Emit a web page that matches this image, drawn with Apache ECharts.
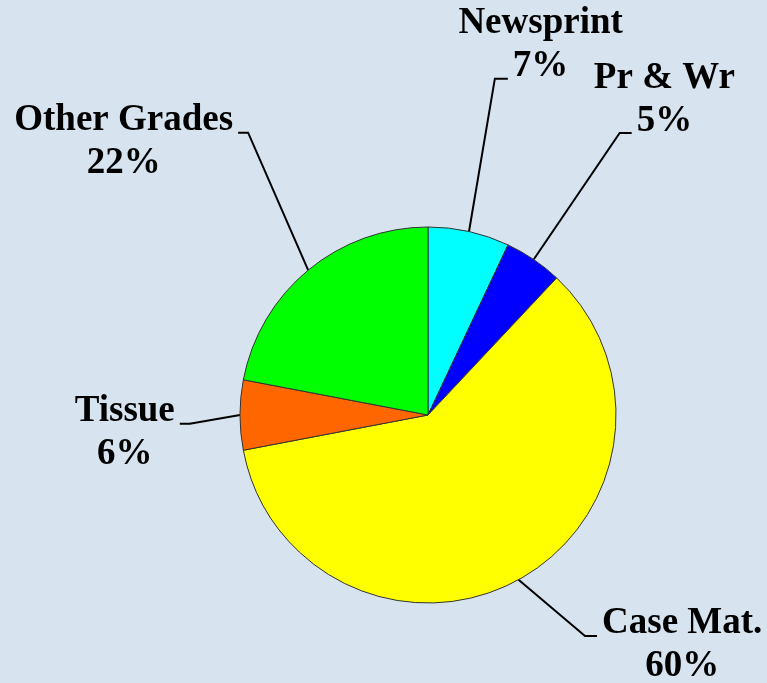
<!DOCTYPE html>
<html>
<head>
<meta charset="utf-8">
<script src="https://cdn.jsdelivr.net/npm/echarts@6/dist/echarts.min.js"></script>
<style>
  html, body { margin: 0; padding: 0; background: #d7e4f0; }
  #chart { width: 767px; height: 683px; }
</style>
</head>
<body>
<div id="chart"></div>
<script>
const names = ['Newsprint', 'Pr & Wr', 'Case Mat.', 'Tissue', 'Other Grades'];
const shares = [7, 5, 60, 6, 22];
const colors = ['#00ffff', '#0000ff', '#ffff00', '#ff6600', '#00ff00'];

// leader lines: first segment length, turn away from radial (deg), tail, text row it touches
const leaders = [
  { len: 155, turn: -3, tail: 13, row: 1 },
  { len: 153, turn: 0, tail: 12, row: 1 },
  { len: 87, turn: -21, tail: 12, row: 0 },
  { len: 51, turn: -10, tail: 10, row: 0 },
  { len: 150, turn: 16, tail: 10, row: 0 }
];

const CX = 428, CY = 415, R = 188;
const FONT_SIZE = 37, LH = 43, GAP = 5, BASE = 12;

const ctx = document.createElement('canvas').getContext('2d');
ctx.font = 'bold ' + FONT_SIZE + 'px "Liberation Serif"';

let myChart = echarts.init(document.getElementById('chart'));

let seriesData = names.map((n, i) => ({
  name: n,
  value: shares[i],
  itemStyle: { color: colors[i] }
}));

let option = {
  backgroundColor: '#d7e4f0',
  animation: false,
  series: [
    {
      type: 'pie',
      center: [CX, CY],
      radius: R,
      startAngle: 90,
      clockwise: true,
      avoidLabelOverlap: false,
      data: seriesData,
      itemStyle: { borderColor: '#333', borderWidth: 1 },
      emphasis: { disabled: true },
      label: {
        show: true,
        formatter: (p) => p.name + '\n' + p.value + '%',
        fontFamily: 'Liberation Serif',
        fontWeight: 'bold',
        fontSize: FONT_SIZE,
        lineHeight: LH,
        color: '#000'
      },
      labelLine: {
        show: true,
        length: 30,
        length2: 10,
        lineStyle: { color: '#000', width: 2 }
      },
      labelLayout: function (p) {
        const i = p.dataIndex;
        const cfg = leaders[i];
        const a = p.labelLinePoints[0];
        const radial = Math.atan2(a[0] - CX, -(a[1] - CY)) * 180 / Math.PI;
        const ang = (radial + cfg.turn) * Math.PI / 180;
        const bend = [a[0] + cfg.len * Math.sin(ang), a[1] - cfg.len * Math.cos(ang)];
        const side = Math.sin(ang) >= 0 ? 1 : -1;
        const end = [bend[0] + side * cfg.tail, bend[1]];
        const rows = [names[i], shares[i] + '%'];
        const w = ctx.measureText(rows[cfg.row]).width;
        return {
          x: end[0] + side * (GAP + w / 2),
          y: end[1] - BASE - LH * cfg.row - LH / 2,
          align: 'center',
          verticalAlign: 'top',
          labelLinePoints: [a, bend, end]
        };
      }
    }
  ]
};
myChart.setOption(option);
</script>
</body>
</html>
